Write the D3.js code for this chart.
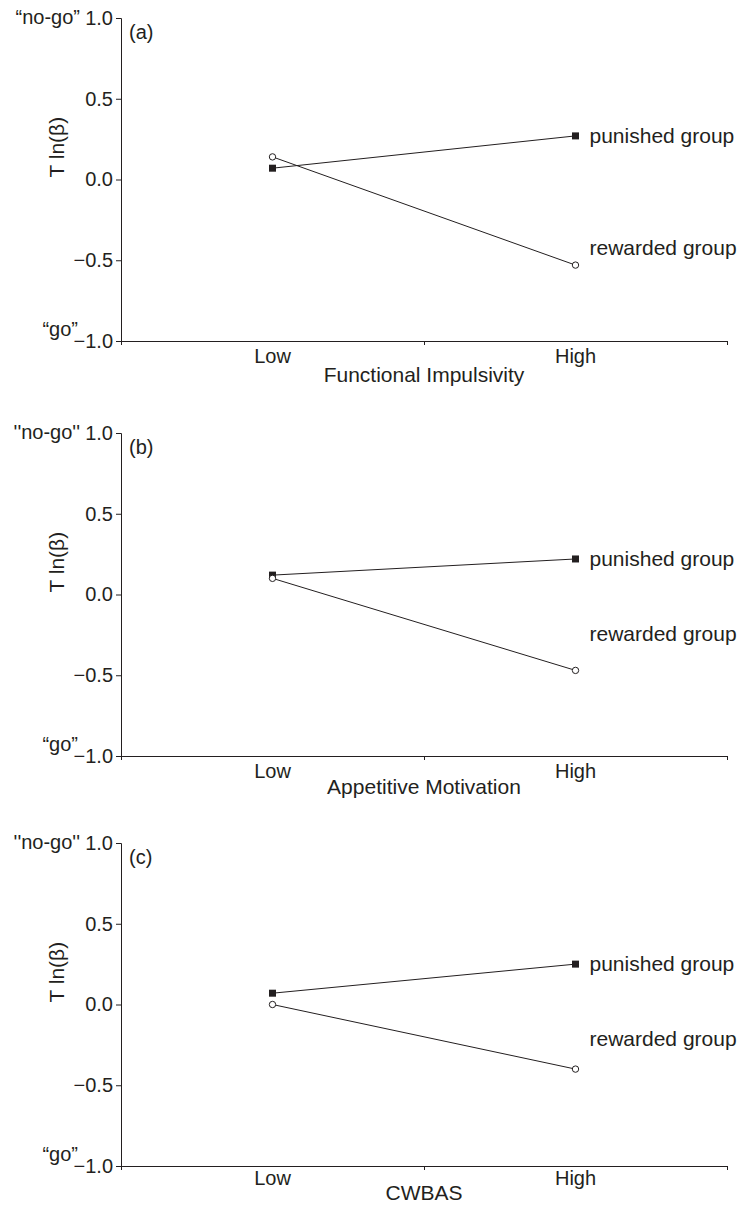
<!DOCTYPE html>
<html>
<head>
<meta charset="utf-8">
<script src="https://cdn.jsdelivr.net/npm/d3@7"></script>
<style>
  body { margin: 0; background: #fff; }
  svg text { font-family: "Liberation Sans", Arial, sans-serif; fill: #231f20; }
</style>
</head>
<body>
<svg id="chart" width="739" height="1205"></svg>
<script>
// ---- data ----
const levels = ["Low", "High"];
const yTicks = [-1.0, -0.5, 0.0, 0.5, 1.0];
const panelIds = ["(a)", "(b)", "(c)"];
const xTitles = ["Functional Impulsivity", "Appetitive Motivation", "CWBAS"];
const noGoLabels = ["\u201cno-go\u201d", "''no-go''", "''no-go''"];
const goLabel = "\u201cgo\u201d";

const punished = [[0.07, 0.27], [0.12, 0.22], [0.07, 0.25]];
const rewarded = [[0.14, -0.53], [0.10, -0.47], [0.00, -0.40]];
// where the "rewarded group" name sits (data units) beside the High marker
const rewardedLabelAt = [-0.42, -0.24, -0.21];

// ---- layout ----
const panelTops = [18, 433, 843];
const panelH = 323;
const titleOffsets = [41, 38, 34];
const left = 121, right = 727;
const ink = "#231f20";

const svg = d3.select("#chart");

panelTops.forEach((top, i) => {
  const g = svg.append("g");

  const y = d3.scaleLinear().domain([-1, 1]).range([top + panelH, top]);
  const x = d3.scaleBand().domain(levels).range([left, right]).padding(0);
  const edge = d3.scaleLinear().domain([0, 2]).range([left, right]);
  const fmt = d3.format(".1f");

  // y axis
  const ya = g.append("g")
    .attr("transform", `translate(${left},0)`)
    .call(d3.axisLeft(y).tickValues(yTicks)
      .tickFormat(d => d < 0 ? "\u2212" + fmt(-d) : fmt(d))
      .tickSizeOuter(0).tickSize(5).tickPadding(3));
  ya.select(".domain").attr("stroke", ink);
  ya.selectAll(".tick line").attr("stroke", ink);
  ya.selectAll(".tick text").attr("font-size", 20).attr("fill", ink)
    .attr("font-family", '"Liberation Sans", Arial, sans-serif');

  // x axis: ticks at the category edges
  const xa = g.append("g")
    .attr("transform", `translate(0,${y(-1)})`)
    .call(d3.axisBottom(edge).tickValues([0, 1, 2]).tickFormat("").tickSize(4).tickSizeOuter(0));
  xa.select(".domain").attr("stroke", ink);
  xa.selectAll(".tick line").attr("stroke", ink);

  const xl = g.append("g")
    .attr("transform", `translate(0,${y(-1)})`)
    .call(d3.axisBottom(x).tickSize(0).tickPadding(i === 2 ? 5 : 8));
  xl.select(".domain").remove();
  xl.selectAll(".tick text").attr("font-size", 20).attr("fill", ink)
    .attr("font-family", '"Liberation Sans", Arial, sans-serif');

  g.append("text")
    .attr("x", edge(1)).attr("y", y(-1) + titleOffsets[i])
    .attr("text-anchor", "middle").attr("font-size", 21)
    .text(xTitles[i]);

  // y axis title
  g.append("text")
    .attr("transform", `translate(64,${y(0.2)}) rotate(-90)`)
    .attr("text-anchor", "middle").attr("font-size", 21)
    .text("T ln(\u03b2)");

  g.append("text").attr("x", 80).attr("y", y(1) + 6)
    .attr("text-anchor", "end").attr("font-size", 20).text(noGoLabels[i]);
  g.append("text").attr("x", 78).attr("y", y(-1) - 5)
    .attr("text-anchor", "end").attr("font-size", 20).text(goLabel);

  g.append("text").attr("x", left + 8).attr("y", y(1) + 21)
    .attr("font-size", 20).text(panelIds[i]);

  // series
  const cx = k => x(levels[k]) + x.bandwidth() / 2;
  const line = d3.line().x((d, k) => cx(k)).y(d => y(d));

  g.append("path").datum(punished[i]).attr("d", line)
    .attr("fill", "none").attr("stroke", ink).attr("stroke-width", 1);
  g.append("path").datum(rewarded[i]).attr("d", line)
    .attr("fill", "none").attr("stroke", ink).attr("stroke-width", 1);

  g.selectAll(".sq").data(punished[i]).join("rect")
    .attr("x", (d, k) => cx(k) - 3.5)
    .attr("y", d => y(d) - 3.5)
    .attr("width", 7).attr("height", 7).attr("fill", ink);

  g.selectAll(".ci").data(rewarded[i]).join("circle")
    .attr("cx", (d, k) => cx(k))
    .attr("cy", d => y(d)).attr("r", 3.2)
    .attr("fill", "#fff").attr("stroke", ink).attr("stroke-width", 1);

  const labelX = cx(1) + 14;
  g.append("text").attr("x", labelX).attr("y", y(punished[i][1]))
    .attr("dy", "0.35em").attr("font-size", 21).text("punished group");
  g.append("text").attr("x", labelX).attr("y", y(rewardedLabelAt[i]))
    .attr("dy", "0.35em").attr("font-size", 21).text("rewarded group");
});
</script>
</body>
</html>
